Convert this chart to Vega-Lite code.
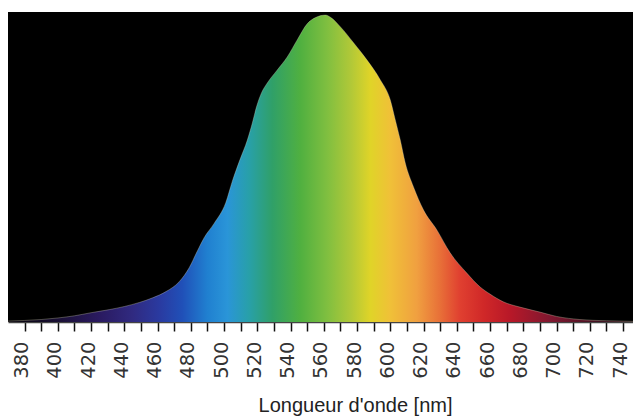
{
  "$schema": "https://vega.github.io/schema/vega-lite/v6.json",
  "width": 625,
  "height": 310,
  "autosize": {"type": "none"},
  "padding": {"left": 8, "top": 12, "right": 0, "bottom": 94},
  "background": "white",
  "config": {"view": {"fill": "black", "stroke": null}},
  "data": {
    "values": [
      {"nm": 370, "v": 0.3}, {"nm": 380, "v": 0.5}, {"nm": 390, "v": 0.8},
      {"nm": 400, "v": 1.3}, {"nm": 410, "v": 2.0}, {"nm": 420, "v": 3.0},
      {"nm": 431, "v": 4.0}, {"nm": 440, "v": 5.0}, {"nm": 449, "v": 6.3},
      {"nm": 457, "v": 7.8}, {"nm": 465, "v": 9.8}, {"nm": 473, "v": 13.0},
      {"nm": 479, "v": 17.5}, {"nm": 484, "v": 23.0}, {"nm": 488, "v": 27.2},
      {"nm": 494, "v": 31.8}, {"nm": 501, "v": 38.5}, {"nm": 505, "v": 45.5},
      {"nm": 509.5, "v": 52.3}, {"nm": 514, "v": 58.7}, {"nm": 517, "v": 64.2},
      {"nm": 519.5, "v": 69.4}, {"nm": 522.5, "v": 73.9}, {"nm": 526, "v": 77.1},
      {"nm": 532, "v": 81.3}, {"nm": 538, "v": 85.5}, {"nm": 544, "v": 91},
      {"nm": 550, "v": 96.2}, {"nm": 555, "v": 98.2}, {"nm": 561, "v": 99},
      {"nm": 564, "v": 98.3}, {"nm": 570, "v": 95.2}, {"nm": 578, "v": 90},
      {"nm": 586, "v": 84.5}, {"nm": 594, "v": 78.1}, {"nm": 600, "v": 71.6},
      {"nm": 603, "v": 65.2}, {"nm": 606, "v": 58.7}, {"nm": 609, "v": 51.3},
      {"nm": 614, "v": 43.5}, {"nm": 620, "v": 36.1}, {"nm": 628, "v": 29.7},
      {"nm": 636, "v": 22.3}, {"nm": 646, "v": 15.8}, {"nm": 654, "v": 11.3},
      {"nm": 660, "v": 9.0}, {"nm": 668, "v": 6.5}, {"nm": 678, "v": 4.8},
      {"nm": 690, "v": 3.2}, {"nm": 700, "v": 1.8}, {"nm": 714, "v": 0.8},
      {"nm": 730, "v": 0.4}, {"nm": 746, "v": 0.2}
    ]
  },
  "encoding": {
    "x": {
      "field": "nm",
      "type": "quantitative",
      "scale": {"domain": [370, 746], "nice": false, "zero": false},
      "axis": {
        "values": [380, 390, 400, 410, 420, 430, 440, 450, 460, 470, 480, 490, 500, 510, 520, 530, 540, 550, 560, 570, 580, 590, 600, 610, 620, 630, 640, 650, 660, 670, 680, 690, 700, 710, 720, 730, 740],
        "labelExpr": "datum.value % 20 == 0 ? datum.label : ''",
        "format": "d",
        "labelAngle": -90,
        "labelFont": "DejaVu Sans",
        "labelFontSize": 19.5,
        "labelColor": "#333333",
        "labelPadding": 10,
        "labelOffset": -3,
        "labelOverlap": false,
        "labelFlush": false,
        "tickColor": "#111111",
        "tickSize": 9,
        "tickWidth": 1.5,
        "domainColor": "#444444",
        "domainWidth": 1.5,
        "grid": false,
        "title": "Longueur d'onde [nm]",
        "titleFont": "Liberation Sans",
        "titleFontSize": 20,
        "titleFontWeight": "normal",
        "titleColor": "#222222",
        "titleX": 347,
        "titleY": 89,
        "titleAlign": "center",
        "titleBaseline": "alphabetic"
      }
    },
    "y": {
      "field": "v",
      "type": "quantitative",
      "scale": {"domain": [0, 100], "nice": false},
      "axis": null
    }
  },
  "layer": [
    {
      "mark": {
        "type": "area",
        "interpolate": "monotone",
        "color": {
          "gradient": "linear",
          "x1": 0, "x2": 1, "y1": 0, "y2": 0,
          "stops": [
            {"offset": 0, "color": "#050008"},
            {"offset": 0.08, "color": "#1a1035"},
            {"offset": 0.146, "color": "#2a1a60"},
            {"offset": 0.199, "color": "#302a80"},
            {"offset": 0.242, "color": "#2a3aa0"},
            {"offset": 0.279, "color": "#2050b8"},
            {"offset": 0.319, "color": "#2080d0"},
            {"offset": 0.351, "color": "#2a95d8"},
            {"offset": 0.386, "color": "#28a0a8"},
            {"offset": 0.423, "color": "#30a068"},
            {"offset": 0.468, "color": "#50b040"},
            {"offset": 0.511, "color": "#80bf40"},
            {"offset": 0.548, "color": "#b0c838"},
            {"offset": 0.58, "color": "#e0d428"},
            {"offset": 0.612, "color": "#f0c038"},
            {"offset": 0.654, "color": "#f0a040"},
            {"offset": 0.691, "color": "#e87038"},
            {"offset": 0.723, "color": "#e04030"},
            {"offset": 0.761, "color": "#d02828"},
            {"offset": 0.803, "color": "#b81828"},
            {"offset": 0.867, "color": "#801830"},
            {"offset": 0.947, "color": "#401020"},
            {"offset": 1, "color": "#200810"}
          ]
        }
      }
    },
    {
      "mark": {"type": "line", "interpolate": "monotone", "stroke": "#e8e8c8", "strokeWidth": 1, "opacity": 0.3}
    }
  ]
}
